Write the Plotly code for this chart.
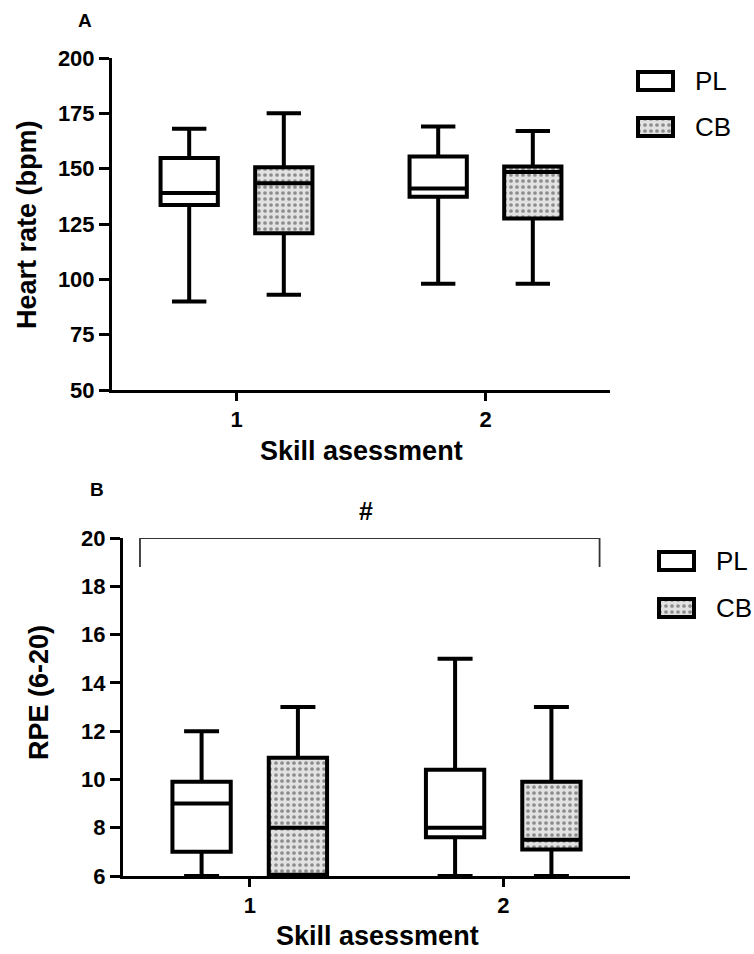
import plotly.graph_objects as go

W, H = 754, 954

# ---- data -------------------------------------------------------------
categories = [1, 2]
tick_labels = ["1", "2"]
groups = ["PL", "CB"]

# Panel A: heart rate (bpm), box summary per skill assessment
hr_pl_low = [90, 98]
hr_pl_q1 = [133.6, 137.3]
hr_pl_med = [139, 141]
hr_pl_q3 = [154.8, 155.5]
hr_pl_high = [168, 169]

hr_cb_low = [93, 98]
hr_cb_q1 = [120.8, 127.5]
hr_cb_med = [143.4, 148.5]
hr_cb_q3 = [150.6, 151]
hr_cb_high = [175, 167]

# Panel B: RPE (6-20)
rpe_pl_low = [6, 6]
rpe_pl_q1 = [7, 7.6]
rpe_pl_med = [9, 8]
rpe_pl_q3 = [9.9, 10.4]
rpe_pl_high = [12, 15]

rpe_cb_low = [6, 6]
rpe_cb_q1 = [6.05, 7.1]
rpe_cb_med = [8, 7.5]
rpe_cb_q3 = [10.9, 9.9]
rpe_cb_high = [13, 13]

hr_ticks = [50, 75, 100, 125, 150, 175, 200]
rpe_ticks = [6, 8, 10, 12, 14, 16, 18, 20]

# ---- styling helpers -----------------------------------------------------
FONT = "Liberation Sans, Arial, sans-serif"
SHIFT = 0.19      # horizontal offset of each group from the category tick
BOX_W = 0.23      # box width in axis units
LINE_W = 4


def px_x(x):
    return x / W


def px_y(y):
    return 1 - y / H


def box_trace(shift, low, q1, med, q3, high, xa, ya, fill):
    return go.Box(
        x=[c + shift for c in categories],
        lowerfence=low, q1=q1, median=med, q3=q3, upperfence=high,
        width=BOX_W, whiskerwidth=0.6, boxpoints=False,
        fillcolor=fill, line=dict(color="black", width=LINE_W),
        xaxis=xa, yaxis=ya, showlegend=False, hoverinfo="skip",
    )


STIPPLE = dict(color="#e2e2e2", line=dict(width=0),
               pattern=dict(shape=".", fgcolor="#8c8c8c", bgcolor="#e2e2e2",
                            size=6, solidity=0.3))


def stipple_trace(shift, q1, q3, xa, ya):
    return go.Bar(
        x=[c + shift for c in categories],
        base=q1, y=[b - a for a, b in zip(q1, q3)],
        width=BOX_W, marker=STIPPLE,
        xaxis=xa, yaxis=ya, showlegend=False, hoverinfo="skip",
    )


fig = go.Figure()

# Panel A
fig.add_trace(stipple_trace(+SHIFT, hr_cb_q1, hr_cb_q3, "x", "y"))
fig.add_trace(box_trace(-SHIFT, hr_pl_low, hr_pl_q1, hr_pl_med, hr_pl_q3, hr_pl_high, "x", "y", "white"))
fig.add_trace(box_trace(+SHIFT, hr_cb_low, hr_cb_q1, hr_cb_med, hr_cb_q3, hr_cb_high, "x", "y", "rgba(0,0,0,0)"))

# Panel B
fig.add_trace(stipple_trace(+SHIFT, rpe_cb_q1, rpe_cb_q3, "x2", "y2"))
fig.add_trace(box_trace(-SHIFT, rpe_pl_low, rpe_pl_q1, rpe_pl_med, rpe_pl_q3, rpe_pl_high, "x2", "y2", "white"))
fig.add_trace(box_trace(+SHIFT, rpe_cb_low, rpe_cb_q1, rpe_cb_med, rpe_cb_q3, rpe_cb_high, "x2", "y2", "rgba(0,0,0,0)"))

# Legend keys: stippled fill for CB drawn on small helper axes
legend_specs = [
    # (left px, text px, PL top px, CB top px, helper axis suffix)
    (636, 693, 70, 116, "3"),
    (657, 714, 550, 597, "4"),
]
SW_W, SW_H = 39, 22

shapes = []
annotations = []
layout_axes = {}
for left, text_x, pl_top, cb_top, suf in legend_specs:
    # stippled interior of the CB key
    layout_axes["xaxis" + suf] = dict(domain=[px_x(left), px_x(left + SW_W)], range=[0, 1],
                                      visible=False, fixedrange=True, anchor="y" + suf)
    layout_axes["yaxis" + suf] = dict(domain=[px_y(cb_top + SW_H), px_y(cb_top)], range=[0, 1],
                                      visible=False, fixedrange=True, anchor="x" + suf)
    fig.add_trace(go.Bar(x=[0.5], y=[1], width=1, marker=STIPPLE,
                         xaxis="x" + suf, yaxis="y" + suf,
                         showlegend=False, hoverinfo="skip"))
    for top, fill, name in [(pl_top, "white", groups[0]), (cb_top, "rgba(0,0,0,0)", groups[1])]:
        shapes.append(dict(type="rect", xref="paper", yref="paper",
                           x0=px_x(left + 2), x1=px_x(left + SW_W - 2),
                           y0=px_y(top + 2), y1=px_y(top + SW_H - 2),
                           line=dict(color="black", width=LINE_W), fillcolor=fill,
                           layer="above"))
        annotations.append(dict(text=name, xref="paper", yref="paper",
                                x=px_x(text_x), y=px_y(top + SW_H / 2),
                                xanchor="left", yanchor="middle", showarrow=False,
                                font=dict(family=FONT, size=26, color="black")))

# Significance bracket across panel B
shapes.append(dict(type="path", xref="x2", yref="y2",
                   path="M 0.567,18.8 L 0.567,20 L 2.38,20 L 2.38,18.8",
                   line=dict(color="#333333", width=1.8), layer="above"))
annotations.append(dict(text="#", xref="paper", yref="paper", x=px_x(366), y=px_y(511),
                        showarrow=False, xanchor="center", yanchor="middle",
                        font=dict(family=FONT, size=25, color="black", weight="bold")))

# Panel letters
annotations.append(dict(text="A", xref="paper", yref="paper", x=px_x(85), y=px_y(20),
                        showarrow=False, xanchor="center", yanchor="middle",
                        font=dict(family=FONT, size=19, color="black", weight="bold")))
annotations.append(dict(text="B", xref="paper", yref="paper", x=px_x(97), y=px_y(490),
                        showarrow=False, xanchor="center", yanchor="middle",
                        font=dict(family=FONT, size=19, color="black", weight="bold")))

tick_font = dict(family=FONT, size=22, color="black", weight="bold")
title_font = dict(family=FONT, size=27, color="black", weight="bold")

# Axis titles, placed as paper annotations
for text, cx, cy, angle in [
    ("Heart rate (bpm)", 27, 225, -90),
    ("RPE (6-20)", 39, 693, -90),
    ("Skill asessment", 361, 451, 0),
    ("Skill asessment", 377, 936, 0),
]:
    annotations.append(dict(text=text, xref="paper", yref="paper",
                            x=px_x(cx), y=px_y(cy), textangle=angle,
                            showarrow=False, xanchor="center", yanchor="middle",
                            font=title_font))


def xaxis_cfg(domain, anchor):
    return dict(domain=domain, anchor=anchor, range=[0.5, 2.5],
                tickmode="array", tickvals=categories, ticktext=tick_labels,
                ticks="outside", ticklen=8, tickwidth=3, tickcolor="black",
                showline=True, linewidth=3, linecolor="black",
                showgrid=False, zeroline=False, tickfont=tick_font,
                automargin=False, fixedrange=True)


def yaxis_cfg(domain, anchor, rng, ticks):
    return dict(domain=domain, anchor=anchor, range=rng,
                tickmode="array", tickvals=ticks,
                ticks="outside", ticklen=10, tickwidth=3, tickcolor="black",
                showline=True, linewidth=3, linecolor="black",
                showgrid=False, zeroline=False, tickfont=tick_font,
                automargin=False, fixedrange=True)


fig.update_layout(
    template="none",
    width=W, height=H,
    margin=dict(l=0, r=0, t=0, b=0),
    autosize=False,
    paper_bgcolor="white", plot_bgcolor="white",
    showlegend=False,
    barmode="overlay",
    xaxis=xaxis_cfg([px_x(112), px_x(610)], "y"),
    yaxis=yaxis_cfg([px_y(390), px_y(58)], "x", [50, 200], hr_ticks),
    xaxis2=xaxis_cfg([px_x(123), px_x(630)], "y2"),
    yaxis2=yaxis_cfg([px_y(876), px_y(538)], "x2", [6, 20], rpe_ticks),
    shapes=shapes,
    annotations=annotations,
    **layout_axes,
)

fig.write_html("out.html")
